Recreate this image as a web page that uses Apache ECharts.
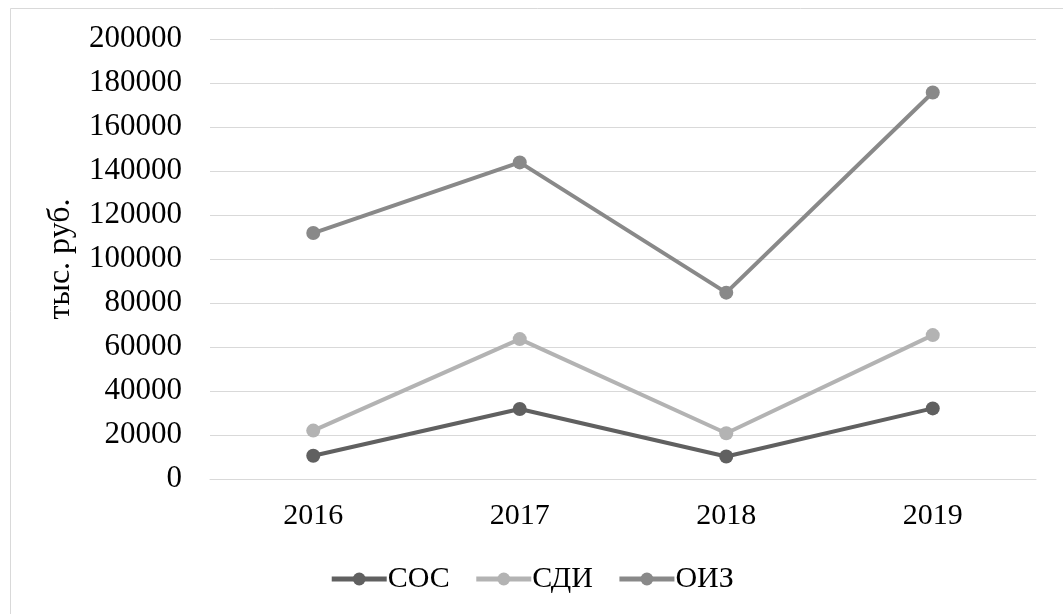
<!DOCTYPE html>
<html>
<head>
<meta charset="utf-8">
<script src="https://cdn.jsdelivr.net/npm/echarts@6/dist/echarts.min.js"></script>
<style>
  html, body { margin: 0; padding: 0; background: #fff; }
  #chart { width: 1063px; height: 614px; }
</style>
</head>
<body>
<div id="chart"></div>
<script>
const years = ['2016', '2017', '2018', '2019'];
const sos = [10600, 31800, 10200, 32100];
const sdi = [22000, 63600, 20800, 65400];
const oiz = [111800, 143900, 84700, 175700];

const font = '"Liberation Serif", "Times New Roman", serif';

function line(name, data, color) {
  return {
    name: name,
    type: 'line',
    data: data,
    symbol: 'circle',
    symbolSize: 14,
    lineStyle: { width: 4, color: color },
    itemStyle: { color: color },
    emphasis: { disabled: true }
  };
}

window.addEventListener('load', () => {
  const chart = echarts.init(document.getElementById('chart'));
  chart.setOption({
    animation: false,
    backgroundColor: '#fff',
    textStyle: { fontFamily: font },
    graphic: [{
      type: 'rect',
      shape: { x: 10.5, y: 8.5, width: 1080, height: 640 },
      style: { fill: 'none', stroke: '#d9d9d9', lineWidth: 1 },
      silent: true
    }],
    grid: { left: 210, right: 27, top: 39, bottom: 135 },
    legend: {
      bottom: 15,
      left: 'center',
      itemWidth: 55,
      itemHeight: 16,
      itemGap: 24,
      lineStyle: { width: 5 },
      textStyle: { fontFamily: font, fontSize: 30, color: '#000', padding: [0, 0, 0, -4] },
      data: ['СОС', 'СДИ', 'ОИЗ']
    },
    xAxis: {
      type: 'category',
      data: years,
      boundaryGap: true,
      axisLine: { lineStyle: { color: '#d9d9d9', width: 1 } },
      axisTick: { show: false },
      axisLabel: { fontFamily: font, fontSize: 30, color: '#000', margin: 22 }
    },
    yAxis: {
      type: 'value',
      min: 0,
      max: 200000,
      interval: 20000,
      name: 'тыс. руб.',
      nameLocation: 'middle',
      nameGap: 133,
      nameRotate: 90,
      nameTextStyle: { fontFamily: font, fontSize: 32, color: '#000' },
      axisLine: { show: false },
      axisTick: { show: false },
      splitLine: { lineStyle: { color: '#d9d9d9', width: 1 } },
      axisLabel: {
        fontFamily: font, fontSize: 31, color: '#000', margin: 28,
        formatter: v => String(v)
      }
    },
    series: [
      line('СОС', sos, '#606060'),
      line('СДИ', sdi, '#b3b3b3'),
      line('ОИЗ', oiz, '#898989')
    ]
  });
});
</script>
</body>
</html>
